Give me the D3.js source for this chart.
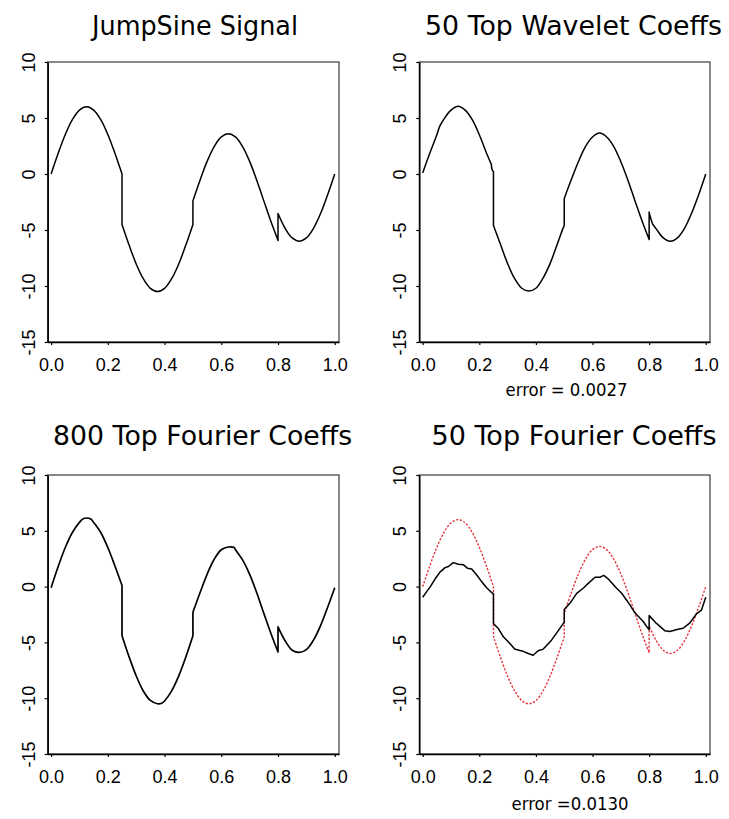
<!DOCTYPE html>
<html>
<head>
<meta charset="utf-8">
<script src="https://cdn.jsdelivr.net/npm/d3@7/dist/d3.min.js"></script>
<style>
  html, body { margin: 0; padding: 0; background: #fff; }
  svg { display: block; }
</style>
</head>
<body>
<svg id="chart" width="729" height="819"></svg>
<script>
// ---------------- data (t, value) ----------------
const signal = [
  [0,0],[0.025,1.85],[0.05,3.53],[0.075,4.85],[0.1,5.71],[0.125,6.0],[0.15,5.71],[0.175,4.85],
  [0.2,3.53],[0.225,1.85],[0.25,0.0],[0.25,-4.5],[0.275,-6.35],[0.3,-8.03],[0.325,-9.35],
  [0.35,-10.21],[0.375,-10.5],[0.4,-10.21],[0.425,-9.35],[0.45,-8.03],[0.475,-6.35],[0.5,-4.5],
  [0.5,-2.4],[0.525,-0.55],[0.55,1.13],[0.575,2.45],[0.6,3.31],[0.625,3.6],[0.65,3.31],
  [0.675,2.45],[0.7,1.13],[0.725,-0.55],[0.75,-2.4],[0.775,-4.25],[0.8,-5.93],[0.8,-3.53],
  [0.825,-4.85],[0.85,-5.71],[0.875,-6.0],[0.9,-5.71],[0.925,-4.85],[0.95,-3.53],[0.975,-1.85],[1,0]
];
const wavelet50 = [
  [0,0.1],[0.025,1.85],[0.05,3.5],[0.06,4.25],[0.075,4.9],[0.1,5.7],[0.125,6.05],[0.15,5.7],
  [0.175,4.85],[0.2,3.5],[0.225,1.9],[0.238,1.1],[0.242,0.9],[0.245,0.4],[0.25,0.2],[0.25,-4.6],
  [0.275,-6.3],[0.3,-8.0],[0.325,-9.35],[0.35,-10.2],[0.375,-10.45],[0.4,-10.2],[0.425,-9.3],
  [0.45,-8.0],[0.475,-6.3],[0.495,-4.9],[0.5,-4.6],[0.5,-2.2],[0.525,-0.5],[0.55,1.1],[0.575,2.45],
  [0.6,3.3],[0.625,3.65],[0.65,3.3],[0.675,2.45],[0.7,1.1],[0.725,-0.55],[0.75,-2.4],[0.775,-4.2],
  [0.8,-5.85],[0.8,-3.4],[0.806,-4.0],[0.81,-4.3],[0.813,-4.5],[0.825,-4.9],[0.85,-5.7],[0.875,-6.0],
  [0.9,-5.7],[0.925,-4.85],[0.95,-3.5],[0.975,-1.85],[1,0]
];
const fourier800 = [
  [0,-0.1],[0.025,1.8],[0.05,3.5],[0.075,4.85],[0.1,5.75],[0.115,6.1],[0.14,6.05],[0.15,5.75],
  [0.175,4.85],[0.2,3.5],[0.225,1.85],[0.25,0.1],[0.25,-4.4],[0.275,-6.3],[0.3,-8.0],[0.325,-9.35],
  [0.35,-10.2],[0.375,-10.5],[0.39,-10.45],[0.4,-10.25],[0.425,-9.35],[0.45,-8.0],[0.475,-6.3],
  [0.5,-4.4],[0.5,-2.3],[0.525,-0.55],[0.55,1.1],[0.575,2.45],[0.6,3.3],[0.625,3.55],[0.645,3.5],
  [0.65,3.3],[0.675,2.4],[0.7,1.1],[0.725,-0.55],[0.75,-2.4],[0.775,-4.2],[0.8,-5.85],[0.8,-3.6],
  [0.825,-4.85],[0.85,-5.7],[0.875,-5.9],[0.9,-5.65],[0.925,-4.8],[0.95,-3.5],[0.975,-1.85],[1,-0.1]
];
const fourier50 = [
  [0,-0.95],[0.014,-0.45],[0.026,-0.05],[0.044,0.7],[0.061,1.3],[0.079,1.7],[0.091,1.8],[0.108,2.15],
  [0.126,2.0],[0.144,1.95],[0.158,1.65],[0.173,1.58],[0.191,1.04],[0.208,0.45],[0.226,-0.1],
  [0.244,-0.55],[0.25,-0.65],[0.25,-3.3],[0.267,-3.75],[0.285,-4.5],[0.308,-5.1],[0.325,-5.6],
  [0.34,-5.7],[0.355,-5.8],[0.373,-6.0],[0.39,-6.15],[0.408,-5.75],[0.426,-5.6],[0.455,-4.8],
  [0.479,-3.95],[0.497,-3.3],[0.5,-3.25],[0.5,-2.05],[0.52,-1.5],[0.544,-0.6],[0.567,-0.15],
  [0.579,0.15],[0.609,0.84],[0.626,0.84],[0.64,1.0],[0.655,0.7],[0.685,-0.15],[0.703,-0.6],
  [0.732,-1.64],[0.749,-2.33],[0.779,-3.13],[0.799,-3.85],[0.8,-3.85],[0.8,-2.6],[0.826,-3.3],
  [0.855,-3.95],[0.873,-4.03],[0.902,-3.82],[0.92,-3.73],[0.943,-3.28],[0.967,-2.45],[0.985,-2.1],
  [1.0,-0.95]
];
const titles = ["JumpSine Signal", "50 Top Wavelet Coeffs", "800 Top Fourier Coeffs", "50 Top Fourier Coeffs"];
const captions = ["", "error = 0.0027", "", "error =0.0130"];
const xTicks = [0, 0.2, 0.4, 0.6, 0.8, 1.0];
const yTicks = [-15, -10, -5, 0, 5, 10];

// ---------------- layout ----------------
const svg = d3.select("#chart");
svg.append("rect").attr("width", 729).attr("height", 819).attr("fill", "#fff");

const panels = [
  { x0: 47.7, x1: 339, y0: 62, y1: 342, title: titles[0], tx: 195, ty: 35, tw: 206,
    cap: captions[0], series: [{ d: signal, color: "#000", dash: null }] },
  { x0: 419.3, x1: 710, y0: 62, y1: 342, title: titles[1], tx: 573.5, ty: 35, tw: 297,
    cap: captions[1], cx: 566.5, cy: 396, cw: 122, series: [{ d: wavelet50, color: "#000", dash: null }] },
  { x0: 47.7, x1: 339, y0: 475, y1: 754, title: titles[2], tx: 202.6, ty: 445, tw: 299,
    cap: captions[2], series: [{ d: fourier800, color: "#000", dash: null, w: 1.7 }] },
  { x0: 419.3, x1: 710, y0: 475, y1: 754, title: titles[3], tx: 574, ty: 445, tw: 285,
    cap: captions[3], cx: 570, cy: 810, cw: 117,
    series: [{ d: signal, color: "#e5323c", dash: "2.2,1.6", w: 1.4 },
             { d: fourier50, color: "#000", dash: null, linear: true }] }
];

function splitAtJumps(data) {
  const segs = [[data[0]]];
  for (let i = 1; i < data.length; i++) {
    if (data[i][0] === data[i - 1][0]) segs.push([data[i]]);
    else segs[segs.length - 1].push(data[i]);
  }
  return segs;
}

panels.forEach(p => {
  const g = svg.append("g");
  const x = d3.scaleLinear().domain([-0.012, 1.015]).range([p.x0, p.x1]);
  const y = d3.scaleLinear().domain([-15, 10]).range([p.y1, p.y0]);

  // series
  p.series.forEach(s => {
    let dStr;
    if (s.linear) {
      dStr = d3.line().x(d => x(d[0])).y(d => y(d[1]))(s.d);
    } else {
      const ln = d3.line().x(d => x(d[0])).y(d => y(d[1])).curve(d3.curveCatmullRom.alpha(0.5));
      dStr = splitAtJumps(s.d).map((seg, i) => {
        const str = ln(seg);
        return i === 0 ? str : "L" + str.slice(1);
      }).join("");
    }
    g.append("path")
      .attr("d", dStr)
      .attr("fill", "none")
      .attr("stroke", s.color)
      .attr("stroke-width", s.w || 1.5)
      .attr("stroke-linejoin", "round")
      .attr("stroke-dasharray", s.dash);
  });

  // box
  g.append("rect")
    .attr("x", p.x0).attr("y", p.y0)
    .attr("width", p.x1 - p.x0).attr("height", p.y1 - p.y0)
    .attr("fill", "none").attr("stroke", "#3a3a3a").attr("stroke-width", 1.2);

  // bottom axis
  const gx = g.append("g").attr("transform", `translate(0,${p.y1})`)
    .call(d3.axisBottom(x).tickValues(xTicks).tickFormat(d3.format(".1f")).tickSize(3).tickSizeOuter(0));
  gx.select(".domain").attr("stroke", "#000").attr("stroke-width", 1.5);
  gx.selectAll(".tick line").attr("stroke", "#000").attr("stroke-width", 1.2);
  gx.selectAll("text")
    .attr("y", 29).attr("dy", 0)
    .attr("font-family", "'Liberation Sans', Arial, sans-serif")
    .attr("font-size", 18).attr("fill", "#000");

  // left axis (hyphen-minus labels, rotated as in the reference)
  const gy = g.append("g").attr("transform", `translate(${p.x0},0)`)
    .call(d3.axisLeft(y).tickValues(yTicks).tickFormat(d => String(d)).tickSize(3).tickSizeOuter(0));
  gy.select(".domain").attr("stroke", "#000").attr("stroke-width", 1.5);
  gy.selectAll(".tick line").attr("stroke", "#000").attr("stroke-width", 1.2);
  gy.selectAll("text")
    .attr("x", 0).attr("y", -13).attr("dy", 0)
    .attr("transform", "rotate(-90)")
    .attr("text-anchor", "middle")
    .attr("font-family", "'Liberation Sans', Arial, sans-serif")
    .attr("font-size", 18).attr("fill", "#000");

  // title
  g.append("text")
    .attr("x", p.tx).attr("y", p.ty)
    .attr("text-anchor", "middle")
    .attr("font-family", "'DejaVu Sans', sans-serif")
    .attr("font-size", 26)
    .attr("textLength", p.tw).attr("lengthAdjust", "spacingAndGlyphs")
    .attr("fill", "#000")
    .text(p.title);

  if (p.cap) {
    g.append("text")
      .attr("x", p.cx).attr("y", p.cy)
      .attr("text-anchor", "middle")
      .attr("font-family", "'DejaVu Sans', sans-serif")
      .attr("font-size", 17)
      .attr("textLength", p.cw).attr("lengthAdjust", "spacingAndGlyphs")
      .attr("fill", "#000")
      .text(p.cap);
  }
});
</script>
</body>
</html>
